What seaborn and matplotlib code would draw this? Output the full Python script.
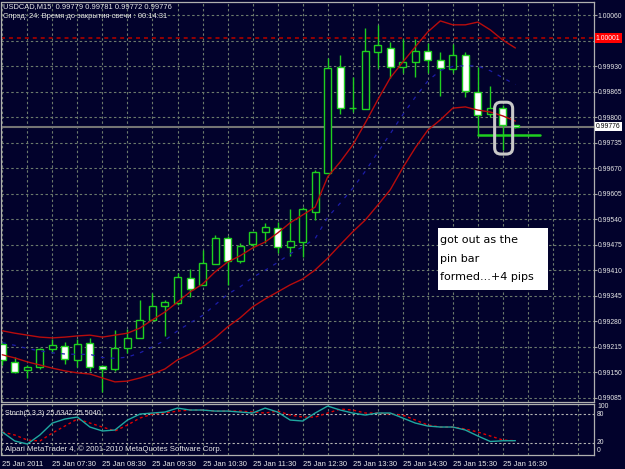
import numpy as np
import matplotlib.pyplot as plt
from matplotlib.patches import FancyBboxPatch, Rectangle
from matplotlib.transforms import blended_transform_factory
import seaborn as sns

# USDCAD M15, 25 Jan 2011, bars from 06:30 to 16:45
opens = [0.99222, 0.99177, 0.99156, 0.99164, 0.99210, 0.99217, 0.99182, 0.99225, 0.99166, 0.99159,
         0.99212, 0.99238, 0.99284, 0.99319, 0.99327, 0.99391, 0.99373, 0.99426, 0.99492, 0.99434,
         0.99477, 0.99508, 0.99518, 0.99469, 0.99482, 0.99559, 0.99658, 0.99928, 0.99823, 0.99821,
         0.99966, 0.99976, 0.99928, 0.99941, 0.99968, 0.99946, 0.99923, 0.99958, 0.99864, 0.99808,
         0.99823, 0.99779]
highs = [0.99228, 0.99189, 0.99169, 0.99212, 0.99235, 0.99228, 0.99235, 0.99238, 0.99169, 0.99258,
         0.99261, 0.99334, 0.99352, 0.99334, 0.99403, 0.99413, 0.99462, 0.99500, 0.99497, 0.99480,
         0.99508, 0.99531, 0.99533, 0.99566, 0.99571, 0.99666, 0.99951, 0.99958, 0.99902, 1.00027,
         1.00035, 0.99991, 0.99999, 0.99999, 0.99989, 0.99966, 0.99986, 0.99966, 0.99928, 0.99879,
         0.99831, 0.99781]
lows = [0.99169, 0.99149, 0.99136, 0.99159, 0.99200, 0.99172, 0.99164, 0.99154, 0.99100, 0.99154,
        0.99200, 0.99238, 0.99284, 0.99243, 0.99322, 0.99342, 0.99373, 0.99426, 0.99373, 0.99429,
        0.99467, 0.99480, 0.99454, 0.99447, 0.99444, 0.99538, 0.99658, 0.99808, 0.99813, 0.99821,
        0.99925, 0.99900, 0.99913, 0.99902, 0.99913, 0.99854, 0.99913, 0.99851, 0.99755, 0.99800,
        0.99716, 0.99772]
closes = [0.99182, 0.99151, 0.99164, 0.99210, 0.99220, 0.99184, 0.99222, 0.99164, 0.99159, 0.99212,
          0.99238, 0.99284, 0.99319, 0.99329, 0.99393, 0.99363, 0.99429, 0.99492, 0.99434, 0.99472,
          0.99508, 0.99520, 0.99469, 0.99485, 0.99566, 0.99660, 0.99925, 0.99823, 0.99823, 0.99968,
          0.99984, 0.99928, 0.99941, 0.99968, 0.99946, 0.99925, 0.99958, 0.99867, 0.99806, 0.99823,
          0.99780, 0.99776]

bb_upper = [0.99256, 0.99250, 0.99245, 0.99240, 0.99238, 0.99240, 0.99243, 0.99245, 0.99240, 0.99245,
            0.99250, 0.99263, 0.99284, 0.99304, 0.99329, 0.99355, 0.99375, 0.99406, 0.99431, 0.99447,
            0.99467, 0.99482, 0.99505, 0.99531, 0.99551, 0.99571, 0.99648, 0.99686, 0.99729, 0.99785,
            0.99844, 0.99900, 0.99940, 0.99979, 1.00017, 1.00045, 1.00035, 1.00035, 1.00042, 1.00022,
            0.99996, 0.99976]
bb_middle = [0.99226, 0.99219, 0.99211, 0.99205, 0.99200, 0.99197, 0.99196, 0.99196, 0.99188, 0.99186,
             0.99189, 0.99200, 0.99215, 0.99232, 0.99256, 0.99276, 0.99295, 0.99322, 0.99349, 0.99368,
             0.99392, 0.99410, 0.99430, 0.99452, 0.99470, 0.99491, 0.99545, 0.99581, 0.99619, 0.99662,
             0.99710, 0.99758, 0.99806, 0.99851, 0.99892, 0.99919, 0.99929, 0.99931, 0.99930, 0.99918,
             0.99900, 0.99883]
bb_lower = [0.99195, 0.99187, 0.99177, 0.99169, 0.99161, 0.99154, 0.99149, 0.99146, 0.99136, 0.99126,
            0.99128, 0.99136, 0.99146, 0.99159, 0.99182, 0.99197, 0.99215, 0.99238, 0.99266, 0.99289,
            0.99317, 0.99337, 0.99355, 0.99373, 0.99388, 0.99411, 0.99441, 0.99475, 0.99508, 0.99538,
            0.99576, 0.99615, 0.99671, 0.99722, 0.99767, 0.99793, 0.99823, 0.99826, 0.99818, 0.99813,
            0.99803, 0.99790]

stoch_main = [43.3, 25.0, 18.9, 37.2, 61.6, 69.8, 73.8, 53.5, 45.4, 47.4, 67.7, 79.9, 82.0, 84.0,
              92.1, 88.1, 88.1, 86.0, 86.0, 84.0, 82.0, 92.1, 84.0, 67.7, 65.7, 82.0, 96.2, 88.1,
              82.0, 77.9, 82.0, 82.0, 71.8, 61.6, 55.5, 53.5, 53.5, 47.4, 35.2, 24.0, 25.5, 25.6342]
stoch_signal = [43.3, 37.2, 27.0, 25.0, 41.3, 55.5, 69.8, 61.6, 53.5, 45.4, 57.6, 71.8, 79.9, 82.0,
                86.0, 88.1, 88.1, 86.0, 86.0, 86.0, 84.0, 82.0, 86.0, 77.9, 73.8, 73.8, 82.0, 90.1,
                88.1, 82.0, 82.0, 79.9, 77.9, 67.7, 57.6, 53.5, 53.5, 49.4, 43.3, 35.2, 27.0, 25.5040]

time_labels = ["25 Jan 2011", "25 Jan 07:30", "25 Jan 08:30", "25 Jan 09:30", "25 Jan 10:30",
               "25 Jan 11:30", "25 Jan 12:30", "25 Jan 13:30", "25 Jan 14:30", "25 Jan 15:30",
               "25 Jan 16:30"]
price_levels = [0.99085, 0.99150, 0.99215, 0.99280, 0.99345, 0.99410, 0.99475, 0.99540,
                0.99605, 0.99670, 0.99735, 0.99800, 0.99865, 0.99930, 0.99995, 1.00060]
order_level = 1.00001
exit_level = 0.99755
note_lines = ["got out as the", "pin bar", "formed...+4 pips"]

BG = "#02022c"
GRID = "#6c7a6c"
GREEN = "#1fd01f"
BAND = "#b80c0c"
TXT = "#e8e8e8"
LAB = 4.9

sns.set_theme(style="dark", rc={"axes.facecolor": BG, "figure.facecolor": BG,
                                "axes.edgecolor": "#b0b0b0", "axes.linewidth": 0.9})
plt.rcParams["font.family"] = ["Liberation Sans", "DejaVu Sans"]

W, H = 625, 469
fig = plt.figure(figsize=(W / 100, H / 100), dpi=100)
ax = fig.add_axes([1.5 / W, 1 - 402 / H, 592 / W, 400 / H])
ax2 = fig.add_axes([1.5 / W, 1 - 455 / H, 592 / W, 51 / H])

bars = np.arange(len(opens))
o = np.array(opens)
c = np.array(closes)
xmin, xmax = -0.064, 47.24

# ---- main price panel
ax.set_xlim(xmin, xmax)
ax.set_ylim(0.990748, 1.000931)
ax.set_xticks(np.arange(0, 48, 2))
ax.set_yticks(price_levels)
ax.set_yticklabels(["" if abs(p - 0.99995) < 1e-6 else f"{p:.5f}" for p in price_levels])
ax.yaxis.tick_right()
ax.tick_params(axis="y", length=2.2, width=0.8, color="#a0a0a0", labelcolor=TXT, labelsize=LAB, pad=0.6)
ax.tick_params(axis="x", length=0, labelbottom=False)
ax.grid(True, color=GRID, linestyle=(0, (2.2, 2.2)), linewidth=0.8)

ax.axhline(order_level, color="#a00000", linestyle=(0, (2.2, 2.2)), linewidth=1.3, zorder=2)
ax.axhline(closes[-1], color="#747474", linewidth=1.5, zorder=2)

ax.vlines(bars, lows, highs, color=GREEN, linewidth=1, zorder=3)
body_lo = np.minimum(o, c)
body_h = np.abs(c - o)
fills = [BG if cc > oo else "white" for oo, cc in zip(o, c)]
ax.bar(bars, body_h, bottom=body_lo, width=0.56, color=fills, edgecolor=GREEN, linewidth=1, zorder=4)

sns.lineplot(x=bars, y=bb_upper, ax=ax, color=BAND, linewidth=1, zorder=5)
sns.lineplot(x=bars, y=bb_lower, ax=ax, color=BAND, linewidth=1, zorder=5)
sns.lineplot(x=bars, y=bb_middle, ax=ax, color="#1c1ca8", linewidth=0.9, zorder=5)
ax.lines[-1].set_linestyle((0, (3, 5)))

# exit line from the bar before the pin bar
ax.plot([bars[38], bars[38] + 5.0], [exit_level, exit_level], color=GREEN, linewidth=1.8, zorder=4)

# rounded box around the pin bar
pin = 40
box = FancyBboxPatch((bars[pin] - 0.66, lows[pin] - 0.00010), 1.44, highs[pin] - lows[pin] + 0.00017,
                     boxstyle="round,pad=0,rounding_size=0.5", mutation_aspect=0.000318,
                     facecolor="none", edgecolor="#c8c8c8", linewidth=2.2, zorder=6)
ax.add_patch(box)

# note
ax.add_patch(Rectangle((34.78, 0.99360), 8.8, 0.00158, facecolor="white", edgecolor="none", zorder=7))
for k, line in enumerate(note_lines):
    ax.text(35.0, 0.99487 - k * 0.00047, line, color="black", fontsize=8, family="DejaVu Sans",
            va="center", ha="left", zorder=8)

tr = blended_transform_factory(ax.transAxes, ax.transData)
ax.text(1.004, order_level, f"{order_level:.5f}", transform=tr, color="white", fontsize=LAB,
        va="center", ha="left", clip_on=False,
        bbox=dict(boxstyle="square,pad=0.2", facecolor="#ff0000", edgecolor="none"), zorder=9)
ax.text(1.004, closes[-1], f"{closes[-1]:.5f}", transform=tr, color="black", fontsize=LAB,
        va="center", ha="left", clip_on=False,
        bbox=dict(boxstyle="square,pad=0.2", facecolor="white", edgecolor="none"), zorder=9)

ax.set_xlabel("")
ax.set_ylabel("")

# ---- stochastic panel
ax2.set_xlim(xmin, xmax)
ax2.set_ylim(-3.5, 100.4)
ax2.set_xticks(bars[::4])
ax2.set_xticklabels(time_labels, ha="left")
ax2.set_xticks(np.arange(0, 48, 2), minor=True)
ax2.set_yticks([])
ax2.tick_params(axis="x", which="major", length=2, color="#a0a0a0", labelcolor=TXT, labelsize=5.5, pad=2)
ax2.tick_params(axis="x", which="minor", length=0)
ax2.grid(True, axis="x", which="both", color=GRID, linestyle=(0, (2.2, 2.2)), linewidth=0.8)
ax2.axhline(80, color="#b4b4b4", linestyle=(0, (2, 2)), linewidth=0.8)
ax2.axhline(20, color="#b4b4b4", linestyle=(0, (2, 2)), linewidth=0.8)

sns.lineplot(x=bars, y=stoch_main, ax=ax2, color="#1fa8a0", linewidth=1, zorder=4)
sns.lineplot(x=bars, y=stoch_signal, ax=ax2, color="#e00000", linewidth=1, zorder=3)
ax2.lines[-1].set_linestyle((0, (2, 2)))
ax2.set_xlabel("")
ax2.set_ylabel("")

tr2 = blended_transform_factory(ax2.transAxes, ax2.transData)
for val, ypos in [("100", 96), ("80", 80), ("20", 21), ("0", 5)]:
    ax2.text(1.006, ypos, val, transform=tr2, color=TXT, fontsize=LAB, va="center", ha="left", clip_on=False)

ax2.text(0.006, 82, f"Stoch(5,3,3) {stoch_main[-1]:.4f} {stoch_signal[-1]:.4f}", transform=tr2,
         color=TXT, fontsize=5.2, va="center", ha="left")
ax2.text(0.006, 8, "Alpari MetaTrader 4, \u00a9 2001-2010 MetaQuotes Software Corp.", transform=tr2,
         color=TXT, fontsize=5.6, va="center", ha="left")

# ---- header
fig.text(3 / W, 1 - 7 / H, f"USDCAD,M15  {opens[-1]:.5f} {highs[-1]:.5f} {lows[-1]:.5f} {closes[-1]:.5f}",
         color=TXT, fontsize=5.4, va="center", ha="left")
fig.text(3 / W, 1 - 16.5 / H, "Спрэд: 24: Время до закрытия свечи : 00:14:31",
         color=TXT, fontsize=5.4, va="center", ha="left")

fig.savefig("out.png", dpi=100, facecolor=BG)
